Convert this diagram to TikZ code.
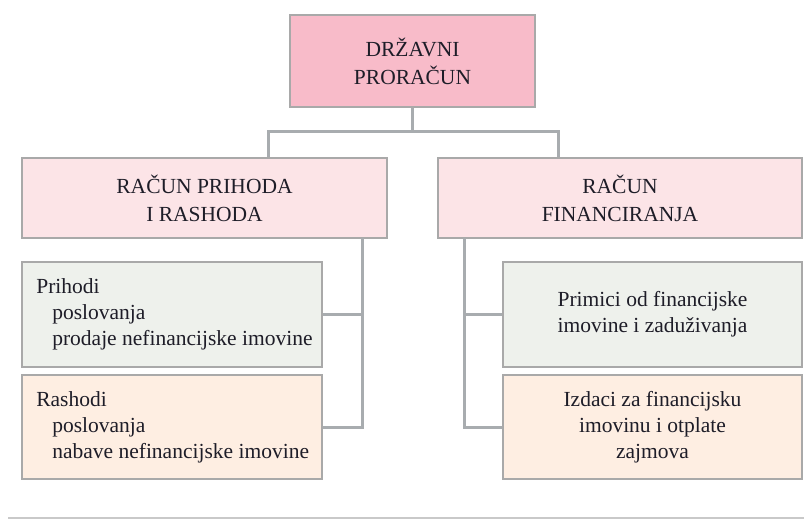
\documentclass[tikz,border=0pt]{standalone}
\usepackage{fontspec}
\setmainfont{Liberation Serif}
\definecolor{topfill}{HTML}{F8BBC9}
\definecolor{midfill}{HTML}{FCE4E7}
\definecolor{greenfill}{HTML}{EEF1EC}
\definecolor{orangefill}{HTML}{FEEEE2}
\definecolor{connc}{HTML}{A8ACAF}
\definecolor{borderc}{HTML}{A9A9A9}
\definecolor{rulec}{HTML}{C9C9C9}
\definecolor{txt}{HTML}{1E1D28}
\begin{document}
\begin{tikzpicture}[x=1pt,y=-1pt,
  box/.style={draw=borderc, line width=1.8pt, rectangle, inner sep=0pt, text=txt, align=center},
  capsfont/.style={font=\fontsize{21.5}{28}\selectfont},
  lowfont/.style={font=\fontsize{21.5}{26}\selectfont},
  conn/.style={draw=connc, line width=3pt},
  txtnode/.style={inner sep=0pt, text=txt}]
\useasboundingbox (0,0) rectangle (804,520);
% boxes
\node[box, capsfont, fill=topfill, minimum width=245pt, minimum height=92pt] (top) at (412.5,61) {DRŽAVNI\\PRORAČUN};
\node[box, capsfont, fill=midfill, minimum width=365pt, minimum height=80pt] (l2) at (204.5,198) {RAČUN PRIHODA\\I RASHODA};
\node[box, capsfont, fill=midfill, minimum width=364pt, minimum height=80pt] (r2) at (620,198) {RAČUN\\FINANCIRANJA};
\node[box, fill=greenfill, minimum width=300pt, minimum height=105pt] (lg) at (172,314.5) {};
\node[box, fill=orangefill, minimum width=300pt, minimum height=104pt] (lo) at (172,427) {};
\node[box, lowfont, fill=greenfill, minimum width=299pt, minimum height=105pt] (rg) at (652.5,314.5) {Primici od financijske\\imovine i zaduživanja};
\node[box, lowfont, fill=orangefill, minimum width=299pt, minimum height=104pt] (ro) at (652.5,427) {Izdaci za financijsku\\imovinu i otplate\\zajmova};
% left texts
\node[txtnode, lowfont, anchor=west, align=left] (lgt) at ([xshift=15pt]lg.west) {Prihodi\\\hspace*{16pt}poslovanja\\\hspace*{16pt}prodaje nefinancijske imovine};
\node[txtnode, lowfont, anchor=west, align=left] (lot) at ([xshift=15pt]lo.west) {Rashodi\\\hspace*{16pt}poslovanja\\\hspace*{16pt}nabave nefinancijske imovine};
% connectors top
\coordinate (jn) at (412.5,131);
\coordinate (jl) at (268,131);
\coordinate (jr) at (558,131);
\draw[conn] (top.south) -- (jn);
\draw[conn] (jl |- l2.north) -- (jl) -- (jr) -- (jr |- r2.north);
% left bus
\coordinate (lb) at (362,238);
\draw[conn] (lb) |- (lo.east);
\draw[conn] (lg.east) -- (lg.east -| lb);
% right bus
\coordinate (rb) at (464,238);
\draw[conn] (rb) |- (ro.west);
\draw[conn] (rg.west) -- (rg.west -| rb);
% bottom rule
\coordinate (bl) at (8,518);
\coordinate (br) at (804,518);
\draw[draw=rulec, line width=2pt] (bl) -- (br);
\end{tikzpicture}
\end{document}
